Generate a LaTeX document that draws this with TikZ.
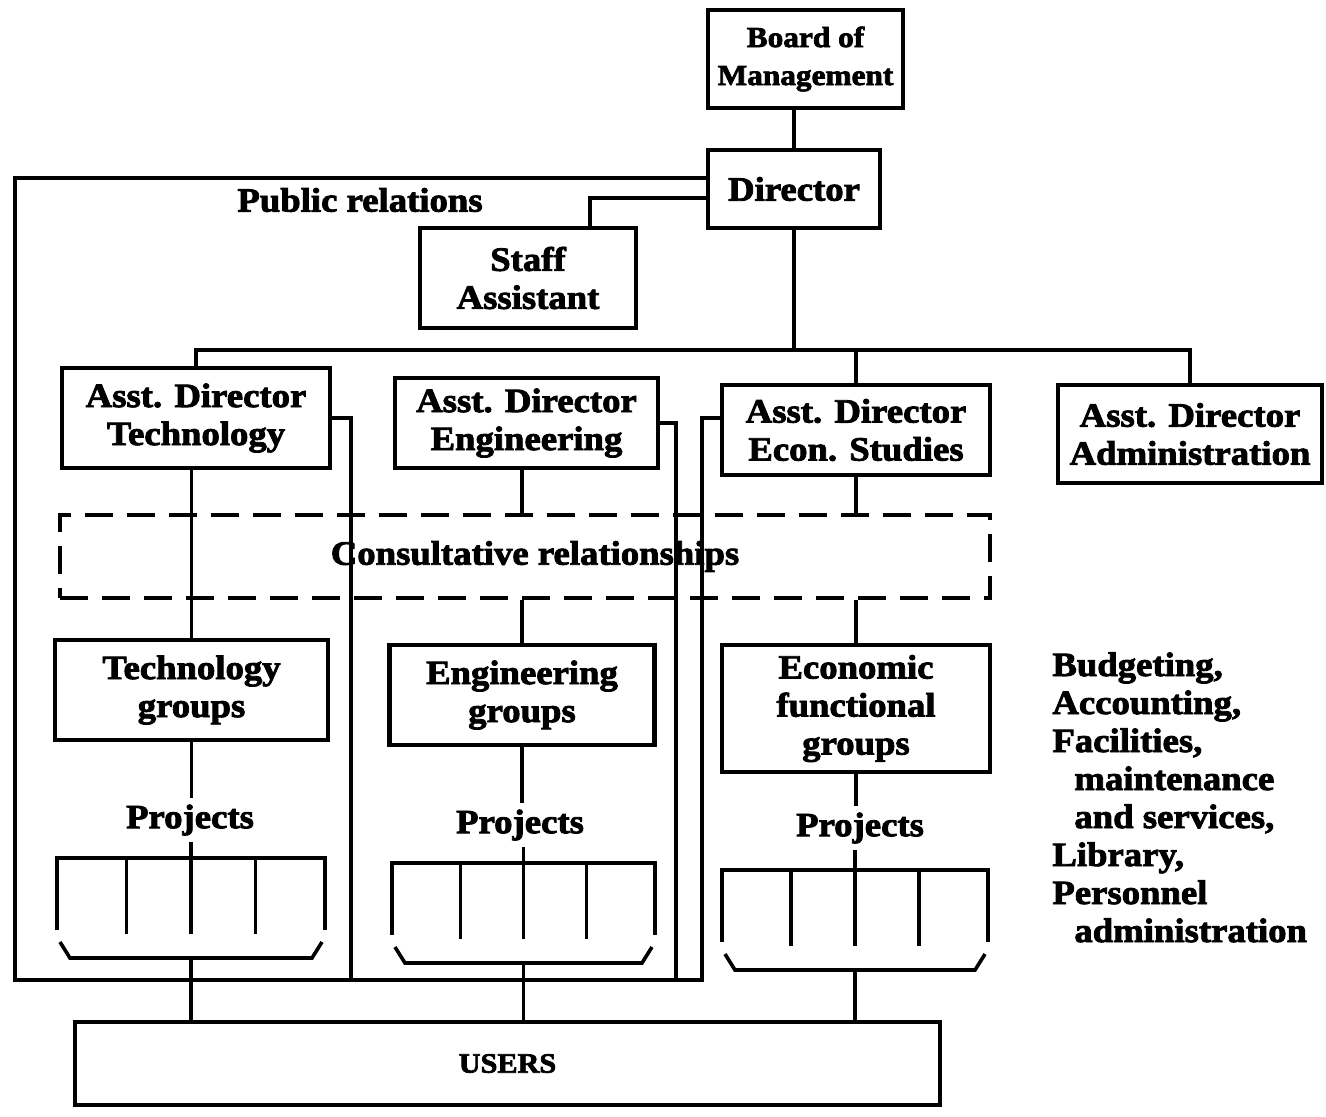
\documentclass[tikz,border=0pt]{standalone}
\usepackage{fontspec}
\setmainfont{Liberation Serif}[FakeStretch=1.08, BoldFeatures={FakeBold=2.5}]
\usetikzlibrary{arrows.meta}
\newcommand{\bx}{\fontsize{17}{19}\selectfont\bfseries}
\newcommand{\projgrid}[4]{%
  \draw[conn] (#2,#4+72) -- (#2,#4) -- (#3,#4) -- (#3,#4+72);
  \foreach \f in {0.26,0.5,0.74} \draw[conn] ({#2+\f*(#3-#2)},#4) -- ({#2+\f*(#3-#2)},#4+76);
  \draw[conn] (#2+3,#4+84) -- (#2+13,#4+100) -- (#3-13,#4+100) -- (#3-3,#4+84);
  \coordinate (#1) at ({(#2+#3)/2},#4+100);
  \coordinate (#1top) at ({(#2+#3)/2},#4);
}
\begin{document}
\begin{tikzpicture}[x=0.5pt,y=-0.5pt,
  box/.style={draw, line width=2.2pt, inner sep=0pt, align=center, font=\bx},
  conn/.style={line width=1.8pt},
  plabel/.style={inner sep=3pt, font=\bx},
  consultbox/.style={draw, line width=2.4pt, dash pattern=on 14pt off 7pt, inner sep=0pt, font=\bx}]
\useasboundingbox (0,0) rectangle (1326,1116);
\fill[white] (0,0) rectangle (1326,1116);

% boxes
\node[box, minimum width=97.5pt, minimum height=49pt, font=\fontsize{14.5}{19}\selectfont\bfseries] (board) at (805.5,59) {Board of\\Management};
\node[box, minimum width=86pt, minimum height=39pt] (director) at (794,189) {Director};
\node[box, minimum width=108pt, minimum height=50pt] (staff) at (528,278) {Staff\\Assistant};
\node[box, minimum width=134pt, minimum height=50pt] (adtech) at (196,418) {Asst. Director\\Technology};
\node[box, minimum width=131.5pt, minimum height=45pt] (adeng) at (526.5,423) {Asst. Director\\Engineering};
\node[box, minimum width=134pt, minimum height=45pt] (adecon) at (856,430) {Asst. Director\\Econ. Studies};
\node[box, minimum width=132pt, minimum height=49pt] (adadmin) at (1190,434) {Asst. Director\\Administration};
\node[consultbox, minimum width=465pt, minimum height=41.5pt] (consult) at (525,556.5) {\hspace{10pt}Consultative relationships};
\node[box, minimum width=136.5pt, minimum height=50pt] (techgrp) at (191.5,690) {Technology\\groups};
\node[box, minimum width=132.5pt, minimum height=50pt] (enggrp) at (522,695) {Engineering\\groups};
\node[box, minimum width=134pt, minimum height=63.5pt] (econgrp) at (856,708.5) {Economic\\functional\\groups};
\node[box, minimum width=432.5pt, minimum height=41.5pt, font=\fontsize{14}{16}\selectfont\bfseries] (users) at (507.5,1063.5) {USERS};

% free texts
\node[font=\bx] (pr) at (360,200) {Public relations};
\node[plabel] (tproj) at (190,820) {Projects};
\node[plabel] (eproj) at (520,825) {Projects};
\node[plabel] (cproj) at (860,828) {Projects};
\node[anchor=north west, align=left, inner sep=0pt, font=\bx] (admintext) at (1052,652)
  {Budgeting,\\Accounting,\\Facilities,\\\hspace{11pt}maintenance\\\hspace{11pt}and services,\\Library,\\Personnel\\\hspace{11pt}administration};

% project grids
\projgrid{tgrid}{57}{325}{858}
\projgrid{egrid}{392}{655}{863}
\projgrid{cgrid}{722}{988}{870}

% hierarchy
\draw[conn] (director.north |- board.south) -- (director.north);
\coordinate (bus) at (0,350);
\draw[conn] (director.south) -- (director.south |- bus);
\draw[conn] (adtech.north) -- (adtech.north |- bus) -- (adadmin.north |- bus) -- (adadmin.north);
\draw[conn] (adecon.north |- bus) -- (adecon.north);
\draw[conn] ([yshift=-4.5pt]director.west) -| ([xshift=31pt]staff.north);

% public relations loop
\coordinate (bl) at (15,980);
\coordinate (br) at (702,980);
\coordinate (tj) at (351,980);
\coordinate (ej) at (676,980);
\draw[conn] ([yshift=5.5pt]director.west) -| (bl) -- (br) |- ([yshift=6pt]adecon.west);
\draw[conn] (adtech.east) -| (tj);
\draw[conn] (adeng.east) -| (ej);

% verticals through consultative box
\draw[conn] (techgrp.north |- adtech.south) -- (techgrp.north);
\draw[conn] (enggrp.north |- adeng.south) -- (enggrp.north |- consult.north);
\draw[conn] (enggrp.north |- consult.south) -- (enggrp.north);
\draw[conn] (econgrp.north |- adecon.south) -- (econgrp.north |- consult.north);
\draw[conn] (econgrp.north |- consult.south) -- (econgrp.north);

% groups to projects
\draw[conn] (techgrp.south) -- (techgrp.south |- tproj.north);
\draw[conn] (tgridtop |- tproj.south) -- (tgridtop);
\draw[conn] (enggrp.south) -- (enggrp.south |- eproj.north);
\draw[conn] (egridtop |- eproj.south) -- (egridtop);
\draw[conn] (econgrp.south) -- (econgrp.south |- cproj.north);
\draw[conn] (cgridtop |- cproj.south) -- (cgridtop);

% projects to users
\draw[conn] (tgrid) -- (tgrid |- users.north);
\draw[conn] (egrid) -- (egrid |- users.north);
\draw[conn] (cgrid) -- (cgrid |- users.north);
\end{tikzpicture}
\end{document}
